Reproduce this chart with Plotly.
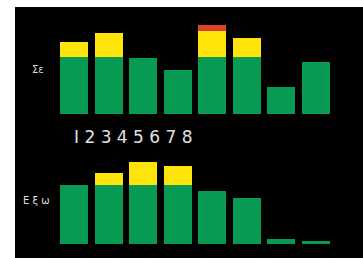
import plotly.graph_objects as go

categories = [1, 2, 3, 4, 5, 6, 7, 8]
top_green = [57, 57, 56, 44, 57, 57, 27, 52]
top_yellow = [15, 24, 0, 0, 26.5, 19, 0, 0]
top_red = [0, 0, 0, 0, 5.5, 0, 0, 0]
bot_green = [58.7, 58.7, 58.7, 58.7, 53, 46.3, 4.7, 3]
bot_yellow = [0, 12, 23.3, 19, 0, 0, 0, 0]
row_labels = ["Σε", "Ε ξ ω"]
number_label = "I 2 3 4 5 6 7 8"

GREEN = "#089952"
YELLOW = "#ffe40a"
RED = "#d8432a"

W, H = 363, 258


def px(x):
    return x / W


def py(y):
    return (H - y) / H


fig = go.Figure()


def add_stack(vals, color, xa, ya):
    fig.add_trace(go.Bar(x=categories, y=vals, marker=dict(color=color, line=dict(width=0)),
                         xaxis=xa, yaxis=ya, showlegend=False, hoverinfo="skip"))


add_stack(top_green, GREEN, "x", "y")
add_stack(top_yellow, YELLOW, "x", "y")
add_stack(top_red, RED, "x", "y")
add_stack(bot_green, GREEN, "x2", "y2")
add_stack(bot_yellow, YELLOW, "x2", "y2")

xdom = [px(56.7), px(333.3)]
ax = dict(range=[0.5, 8.5], visible=False, fixedrange=True)
fig.update_layout(
    width=W, height=H,
    margin=dict(l=0, r=0, t=0, b=0),
    paper_bgcolor="white",
    plot_bgcolor="rgba(0,0,0,0)",
    barmode="stack",
    bargap=0.19,
    hovermode=False,
    xaxis=dict(domain=xdom, anchor="y", **ax),
    xaxis2=dict(domain=xdom, anchor="y2", **ax),
    yaxis=dict(domain=[py(114.3), py(19.3)], range=[0, 95], visible=False, anchor="x", fixedrange=True),
    yaxis2=dict(domain=[py(244), py(159)], range=[0, 85], visible=False, anchor="x2", fixedrange=True),
    shapes=[dict(type="rect", xref="paper", yref="paper", x0=px(15), x1=1, y0=0, y1=py(7),
                 fillcolor="black", line=dict(width=0), layer="below")],
    annotations=[
        dict(text=row_labels[0], x=px(38), y=py(69), xref="paper", yref="paper",
             xanchor="center", yanchor="middle",
             showarrow=False, font=dict(color="#dddddd", size=10, family="DejaVu Sans")),
        dict(text=row_labels[1], x=px(36), y=py(200), xref="paper", yref="paper",
             xanchor="center", yanchor="middle",
             showarrow=False, font=dict(color="#dddddd", size=10, family="DejaVu Sans")),
        dict(text=number_label, x=px(133), y=py(137), xref="paper", yref="paper",
             xanchor="center", yanchor="middle",
             showarrow=False, font=dict(color="#e0e0e0", size=17, family="DejaVu Sans")),
    ],
)

fig.write_html(
    "out.html",
    config={"displayModeBar": False, "staticPlot": True},
    post_script="document.body.style.margin='0';document.body.style.overflow='hidden';",
)
